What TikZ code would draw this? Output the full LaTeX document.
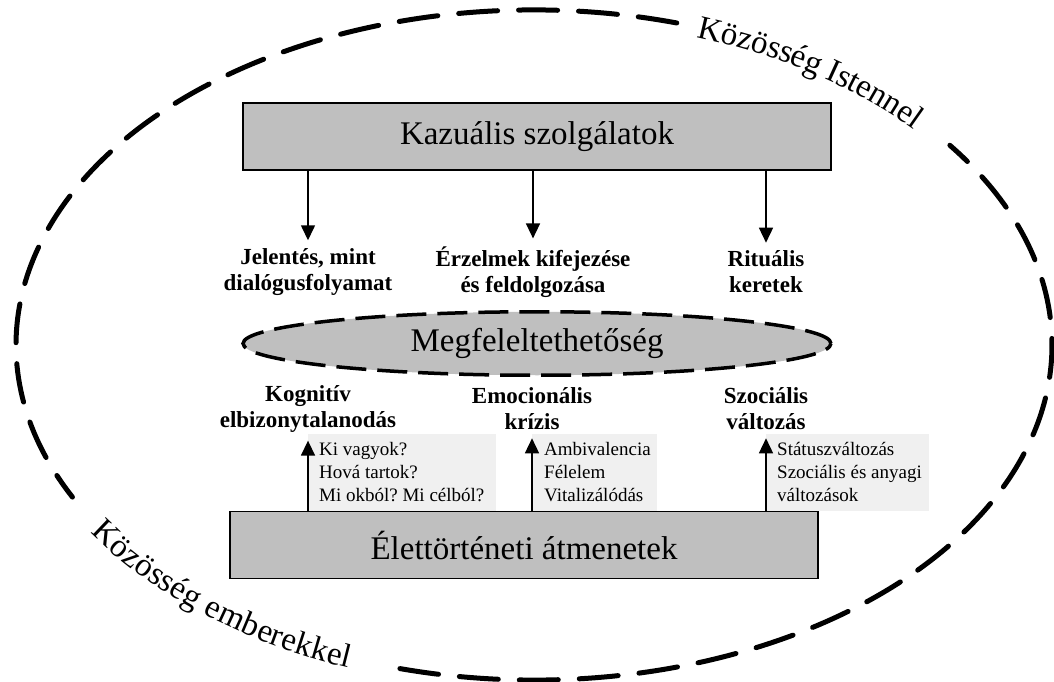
\documentclass[tikz,border=0pt]{standalone}
\usepackage{fontspec}
\setmainfont{Liberation Serif}
\usetikzlibrary{arrows.meta,shapes.geometric,decorations.text}
\frenchspacing

\begin{document}
\begin{tikzpicture}[x=1pt,y=1pt,
    mainbox/.style={draw=black,line width=1.4pt,fill=black!25,minimum width=588pt,
      minimum height=67pt,inner sep=0pt,font=\fontsize{33}{38}\selectfont},
    lbl/.style={align=center,inner xsep=2pt,inner ysep=8pt,
      font=\fontsize{23}{26}\selectfont\bfseries},
    litebox/.style={fill=black!6,minimum height=77pt,inner sep=0pt,anchor=south west},
    litetext/.style={align=left,inner sep=0pt,anchor=west,font=\fontsize{19}{23}\selectfont},
    arr/.style={line width=1.5pt,-{Triangle[length=15pt,width=14pt]}},
    ring/.style={line width=5pt,line cap=round,dash pattern=on 39pt off 21pt,shift={(534,336)}},
    ringtext/.style={shift={(534,336)},decorate,decoration={text along path,raise=-10pt,
      text={|\fontsize{33}{38}\selectfont|#1}}}]
    \useasboundingbox (0,0) rectangle (1054,681);
    \draw[ring] (74:518 and 335) arc[start angle=74,end angle=207,x radius=518,y radius=335];
    \draw[ring] (255:518 and 335) arc[start angle=255,end angle=396.6,x radius=518,y radius=335];
    \path[ringtext={Közösség Istennel}] (71.4:518 and 335)
      arc[start angle=71.4,end angle=30,x radius=518,y radius=335];
    \path[ringtext={Közösség emberekkel}] (212.5:518 and 335)
      arc[start angle=212.5,end angle=256,x radius=518,y radius=335];

    \node[mainbox] (kaz) at (537,544.5) {Kazuális szolgálatok};
    \node[lbl] (jel) at (308,409) {Jelentés, mint\\dialógusfolyamat};
    \node[lbl] (erz) at (533,409) {Érzelmek kifejezése\\és feldolgozása};
    \node[lbl] (rit) at (766,409) {Rituális\\keretek};
    \node[ellipse,draw,fill=black!25,line width=3.5pt,dash pattern=on 30pt off 11pt,
      minimum width=588pt,minimum height=63.5pt,inner sep=0pt,
      font=\fontsize{33}{38}\selectfont] (meg) at (537,337.5) {Megfeleltethetőség};
    \node[lbl] (kog) at (308,272) {Kognitív\\elbizonytalanodás};
    \node[lbl] (emo) at (532,272) {Emocionális\\krízis};
    \node[lbl] (szoc) at (766,272) {Szociális\\változás};
    \node[mainbox] (elet) at (524,136) {Élettörténeti átmenetek};

    \node[litebox,minimum width=188pt] (kogbox) at (elet.north -| kog) {};
    \node[litebox,minimum width=125pt] (emobox) at (elet.north -| emo) {};
    \node[litebox,minimum width=163pt] (szocbox) at (elet.north -| szoc) {};
    \node[litetext] (kogtxt) at ([xshift=11pt]kogbox.west) {Ki vagyok?\\Hová tartok?\\Mi okból? Mi célból?};
    \node[litetext] (emotxt) at ([xshift=12pt]emobox.west) {Ambivalencia\\Félelem\\Vitalizálódás};
    \node[litetext] (szoctxt) at ([xshift=11pt]szocbox.west) {Státuszváltozás\\Szociális és anyagi\\változások};

    \foreach \a in {jel,erz,rit} \draw[arr] (kaz.south -| \a) -- (\a.north);
    \foreach \a in {kog,emo,szoc} \draw[arr] (elet.north -| \a) -- (\a.south);
\end{tikzpicture}
\end{document}
